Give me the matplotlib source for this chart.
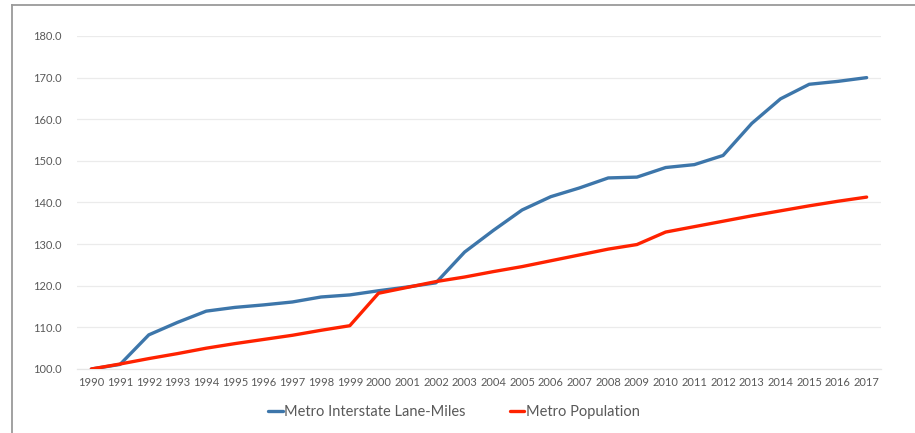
import matplotlib
matplotlib.use("Agg")
import matplotlib.pyplot as plt
from matplotlib.lines import Line2D

years = [str(y) for y in range(1990, 2018)]
lane_miles = [100.0, 101.1, 108.2, 111.2, 113.9, 114.8, 115.4, 116.1, 117.3, 117.8,
              118.8, 119.7, 120.7, 128.1, 133.3, 138.2, 141.4, 143.5, 145.9, 146.1,
              148.4, 149.1, 151.3, 159.0, 164.9, 168.4, 169.1, 170.0]
population = [100.0, 101.2, 102.5, 103.7, 105.0, 106.1, 107.1, 108.1, 109.3, 110.4,
              118.2, 119.6, 121.0, 122.1, 123.4, 124.6, 126.0, 127.4, 128.8, 129.9,
              132.9, 134.2, 135.5, 136.8, 138.0, 139.2, 140.3, 141.3]
series_names = ["Metro Interstate Lane-Miles", "Metro Population"]
yticks = [100, 110, 120, 130, 140, 150, 160, 170, 180]

plt.rcParams['font.family'] = ['Lato', 'DejaVu Sans']

W, H = 915, 433
fig = plt.figure(figsize=(W / 100, H / 100), dpi=100)
ax = fig.add_axes([77 / W, 1 - 369 / H, (881 - 77) / W, (369 - 36) / H])

x = list(range(len(years)))
ax.plot(x, lane_miles, color="#3d76aa", lw=2.4, label=series_names[0], solid_capstyle="round", zorder=3)
ax.plot(x, population, color="#ff2200", lw=2.4, label=series_names[1], solid_capstyle="round", zorder=3)

ax.set_xlim(-0.5, len(years) - 0.5)
ax.set_ylim(100, 180)
ax.set_yticks(yticks)
ax.set_yticklabels([f"{v:.1f}" for v in yticks])
ax.set_xticks(x)
ax.set_xticklabels(years)
ax.grid(axis="y", color="#ebebeb", lw=0.9)
ax.set_axisbelow(True)
for s in ["top", "right", "left"]:
    ax.spines[s].set_visible(False)
ax.spines["bottom"].set_color("#e6e6e6")
ax.spines["bottom"].set_linewidth(0.9)
ax.tick_params(axis="both", length=0, colors="#595959", labelsize=8)
ax.tick_params(axis="y", pad=11)
ax.tick_params(axis="x", pad=6)

leg = fig.legend(loc="center", bbox_to_anchor=(454 / W, 1 - 412 / H), ncol=2, frameon=False,
                 handlelength=1.0, handletextpad=0.1, columnspacing=3.0, fontsize=10.5)
for t in leg.get_texts():
    t.set_color("#595959")

fig.add_artist(Line2D([11.5 / W, 11.5 / W], [0, 1 - 5 / H], color="#9a9a9a", lw=1.3, transform=fig.transFigure))
fig.add_artist(Line2D([11.5 / W, 1], [1 - 5 / H, 1 - 5 / H], color="#9a9a9a", lw=1.3, transform=fig.transFigure))

fig.savefig("out.png", dpi=100)
